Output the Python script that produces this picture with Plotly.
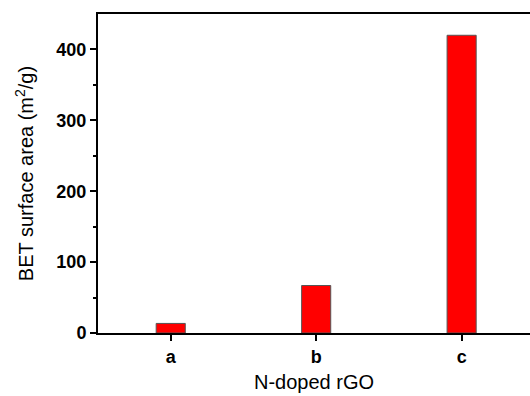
import plotly.graph_objects as go

categories = ["a", "b", "c"]
bet_area = [13.5, 67, 420]

fig = go.Figure()
fig.add_trace(go.Bar(
    x=categories, y=bet_area, width=0.2,
    marker=dict(color="#ff0000", line=dict(color="#555555", width=1)),
))

font_family = "Liberation Sans, Arial, sans-serif"
fig.update_layout(
    width=530, height=396,
    margin=dict(l=98, r=0, t=14, b=63),
    plot_bgcolor="white", paper_bgcolor="white",
    showlegend=False,
    font=dict(family=font_family, color="black"),
    xaxis=dict(
        type="category", range=[-0.5, 2.47], automargin=False,
        showline=True, linecolor="black", linewidth=2, mirror=True,
        ticks="outside", ticklen=6, tickwidth=2, tickcolor="black",
        tickfont=dict(size=18, family=font_family, weight="bold"),
        title=dict(text="N-doped rGO", font=dict(size=20), standoff=9),
        showgrid=False, zeroline=False,
    ),
    yaxis=dict(
        range=[0, 450], tickvals=[0, 100, 200, 300, 400], automargin=False,
        showline=True, linecolor="black", linewidth=2,
        ticks="outside", ticklen=6, tickwidth=2, tickcolor="black",
        minor=dict(tickvals=[50, 150, 250, 350], ticks="outside", ticklen=3, tickwidth=2, tickcolor="black", showgrid=False),
        tickfont=dict(size=18, family=font_family, weight="bold"),
        title=dict(text="BET surface area (m<sup>2</sup>/g)", font=dict(size=20), standoff=17),
        showgrid=False, zeroline=False,
    ),
)

fig.write_html(
    "out.html",
    config={"displayModeBar": False},
    post_script="document.body.style.margin='0';document.body.style.overflow='hidden';",
)
